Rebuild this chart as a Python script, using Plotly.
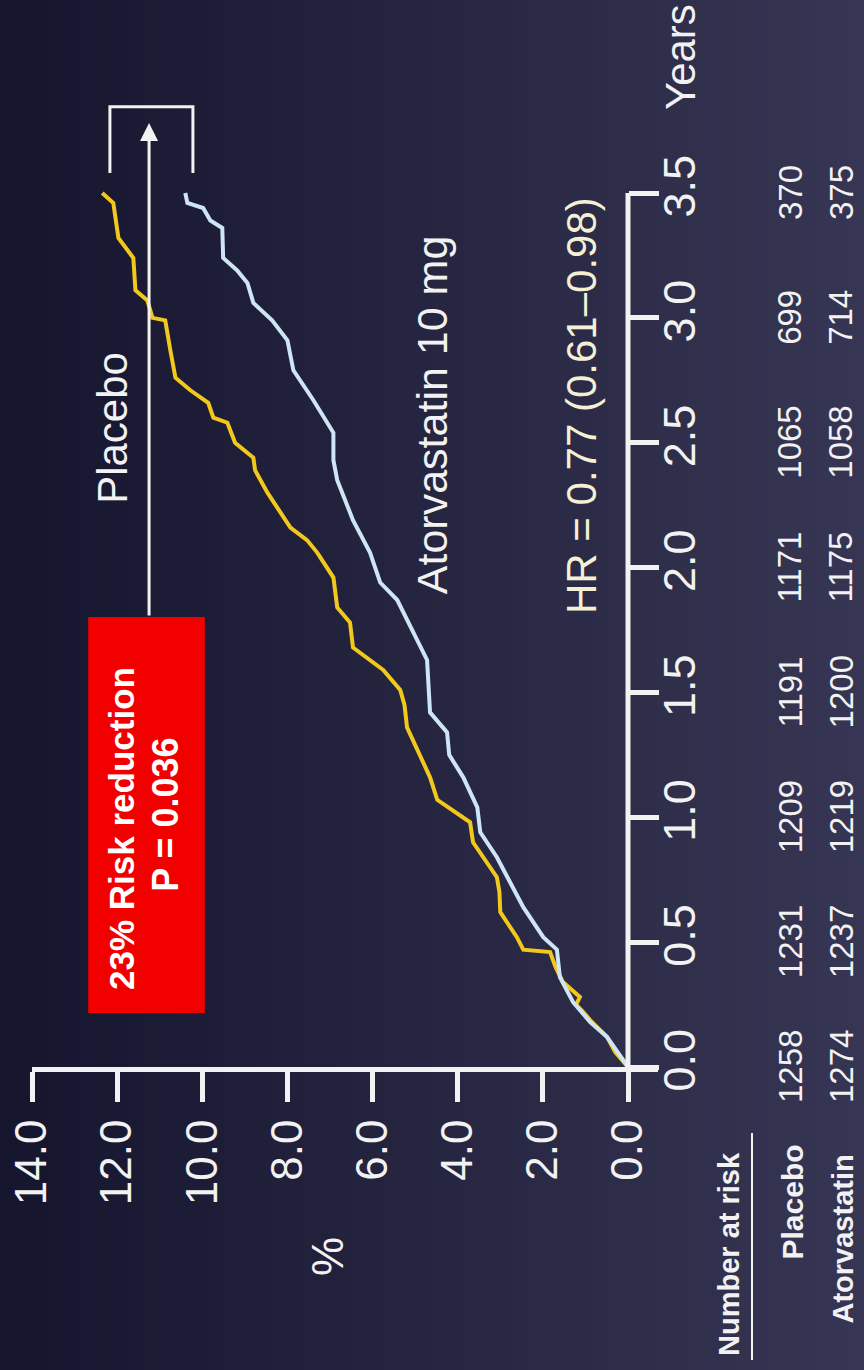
import plotly.graph_objects as go

# ---- data -------------------------------------------------------------
years_ticks = [0.0, 0.5, 1.0, 1.5, 2.0, 2.5, 3.0, 3.5]
pct_ticks = [0, 2, 4, 6, 8, 10, 12, 14]

placebo_t = [0, 0.06, 0.12, 0.18, 0.22, 0.25, 0.28, 0.34, 0.40, 0.46, 0.47, 0.52,
             0.62, 0.70, 0.76, 0.84, 0.90, 0.98, 1.07, 1.16, 1.27, 1.36, 1.45,
             1.51, 1.59, 1.68, 1.78, 1.84, 1.96, 2.06, 2.11, 2.16, 2.23, 2.30,
             2.39, 2.44, 2.50, 2.58, 2.60, 2.66, 2.71, 2.76, 2.87, 2.99, 3.00,
             3.07, 3.11, 3.24, 3.32, 3.40, 3.46, 3.50]
placebo_pct = [0, 0.30, 0.49, 0.85, 1.05, 1.22, 1.13, 1.53, 1.70, 1.83, 2.46, 2.61,
               3.00, 3.02, 3.08, 3.40, 3.64, 3.71, 4.48, 4.65, 4.95, 5.19, 5.25,
               5.35, 5.75, 6.46, 6.53, 6.83, 6.92, 7.30, 7.54, 7.93, 8.20, 8.47,
               8.76, 8.80, 9.23, 9.41, 9.74, 9.86, 10.28, 10.63, 10.75, 10.87, 11.17,
               11.29, 11.57, 11.62, 11.97, 12.05, 12.09, 12.35]

atorva_t = [0, 0.03, 0.12, 0.18, 0.26, 0.36, 0.47, 0.52, 0.64, 0.74, 0.84, 0.94,
            1.04, 1.16, 1.25, 1.34, 1.42, 1.63, 1.74, 1.87, 1.94, 2.06, 2.19,
            2.35, 2.43, 2.54, 2.67, 2.79, 2.91, 2.99, 3.06, 3.14, 3.19, 3.24,
            3.36, 3.39, 3.44, 3.46, 3.50]
atorva_pct = [0, 0.12, 0.49, 0.89, 1.29, 1.60, 1.67, 1.99, 2.46, 2.77, 3.08, 3.47,
              3.54, 3.87, 4.20, 4.25, 4.65, 4.72, 5.05, 5.42, 5.82, 6.06, 6.46,
              6.83, 6.92, 6.92, 7.39, 7.86, 8.00, 8.36, 8.80, 8.94, 9.18, 9.51,
              9.53, 9.81, 9.98, 10.35, 10.40]

risk_placebo = [1258, 1231, 1209, 1191, 1171, 1065, 699, 370]
risk_atorva = [1274, 1237, 1219, 1200, 1175, 1058, 714, 375]

# ---- geometry helpers (pixel -> paper) --------------------------------
W, H = 864, 1370
L, R, T, B = 32, 206, 0, 303
PW, PH = W - L - R, H - T - B


def px(x):
    return (x - L) / PW


def py(y):
    return (H - B - y) / PH


FONT = "Liberation Sans, Arial, sans-serif"
WHITE = "#f2f2f2"
YELLOW = "#f2c81c"
BLUE = "#cde5f4"

fig = go.Figure()

fig.add_trace(go.Scatter(x=placebo_pct, y=placebo_t, mode="lines",
                         line=dict(color=YELLOW, width=4), name="Placebo",
                         hoverinfo="skip"))
fig.add_trace(go.Scatter(x=atorva_pct, y=atorva_t, mode="lines",
                         line=dict(color=BLUE, width=4), name="Atorvastatin",
                         hoverinfo="skip"))

shapes = []

# background: horizontal gradient from deep navy to slate
n = 54
c0, c1 = (21, 21, 46), (54, 54, 84)
for i in range(n):
    f = i / (n - 1)
    col = "rgb(%d,%d,%d)" % tuple(round(a + (b - a) * f) for a, b in zip(c0, c1))
    x0 = i * W / n
    x1 = (i + 1) * W / n + 1
    shapes.append(dict(type="rect", xref="paper", yref="paper", layer="below",
                       x0=px(x0), x1=px(x1), y0=py(H), y1=py(0),
                       fillcolor=col, line=dict(width=0)))

# time axis line (stops at 3.5 years)
shapes.append(dict(type="line", xref="x", yref="y", x0=0, x1=0, y0=0, y1=3.5,
                   line=dict(color=WHITE, width=5)))

# red highlight box
shapes.append(dict(type="rect", xref="x", yref="y", x0=12.68, x1=9.94,
                   y0=0.216, y1=1.802, fillcolor="#f20000", line=dict(width=0)))

# bracket joining the two curve ends
shapes.append(dict(type="path", xref="x", yref="y",
                   path="M 12.17,3.58 L 12.17,3.845 L 10.22,3.845 L 10.22,3.58",
                   line=dict(color=WHITE, width=3)))

# underline of the "Number at risk" heading
shapes.append(dict(type="line", xref="paper", yref="paper",
                   x0=px(752), x1=px(752), y0=py(1133), y1=py(1360),
                   line=dict(color=WHITE, width=2)))

ann = []


def label(text, x, y, size, color=WHITE, xref="paper", yref="paper",
          xanchor="center", yanchor="middle"):
    ann.append(dict(xref=xref, yref=yref, x=x, y=y, text=text, showarrow=False,
                    textangle=-90, xanchor=xanchor, yanchor=yanchor,
                    font=dict(family=FONT, size=size, color=color)))


# arrow from the red box up to the bracket
ann.append(dict(xref="x", yref="y", axref="x", ayref="y", x=11.25, y=3.78,
                ax=11.25, ay=1.802, text="", showarrow=True, arrowhead=2,
                arrowsize=1.2, arrowwidth=3, arrowcolor=WHITE))

label("<b>23% Risk reduction</b>", 11.91, 0.957, 35, "white", "x", "y")
label("<b>P = 0.036</b>", 10.88, 1.009, 36, "white", "x", "y")

label("Placebo", 12.10, 2.559, 42, WHITE, "x", "y")
label("Atorvastatin 10 mg", 4.60, 2.611, 43, WHITE, "x", "y")
label("HR = 0.77 (0.61–0.98)", 1.104, 2.647, 42, "#f3f0d4", "x", "y")

label("Years", px(680), py(57), 42)
label("%", px(328), py(1257), 44)

# number-at-risk table
label("<b>Number at risk</b>", px(729), py(1150), 29, yanchor="top")
label("<b>Placebo</b>", px(792), py(1143), 30, yanchor="top")
label("<b>Atorvastatin</b>", px(842), py(1153), 29, yanchor="top")
for t, a, b in zip(years_ticks, risk_placebo, risk_atorva):
    label(str(a), px(790), t, 33, yref="y")
    label(str(b), px(841), t, 33, yref="y")

fig.update_layout(
    width=W, height=H,
    margin=dict(l=L, r=R, t=T, b=B, pad=0),
    paper_bgcolor="#24243f",
    plot_bgcolor="rgba(0,0,0,0)",
    showlegend=False,
    shapes=shapes,
    annotations=ann,
    xaxis=dict(range=[14, -30 / ((628 - 32) / 14)], showgrid=False, zeroline=False,
               showline=True, linecolor=WHITE, linewidth=5,
               ticks="outside", ticklen=30, tickwidth=5, tickcolor=WHITE,
               tickvals=pct_ticks, ticktext=["%.1f" % v for v in pct_ticks],
               tickangle=-90, tickfont=dict(family=FONT, size=44, color=WHITE),
               fixedrange=True),
    yaxis=dict(range=[0, (H - B) / ((1067 - 193) / 3.5)], showgrid=False, zeroline=False,
               showline=False, anchor="free", position=(628 - L) / PW, side="right",
               ticks="outside", ticklen=30, tickwidth=5, tickcolor=WHITE,
               tickvals=years_ticks, ticktext=["%.1f" % v for v in years_ticks],
               tickangle=-90, ticklabelstandoff=-18,
               tickfont=dict(family=FONT, size=45, color=WHITE),
               fixedrange=True),
)

fig.write_html("out.html")
